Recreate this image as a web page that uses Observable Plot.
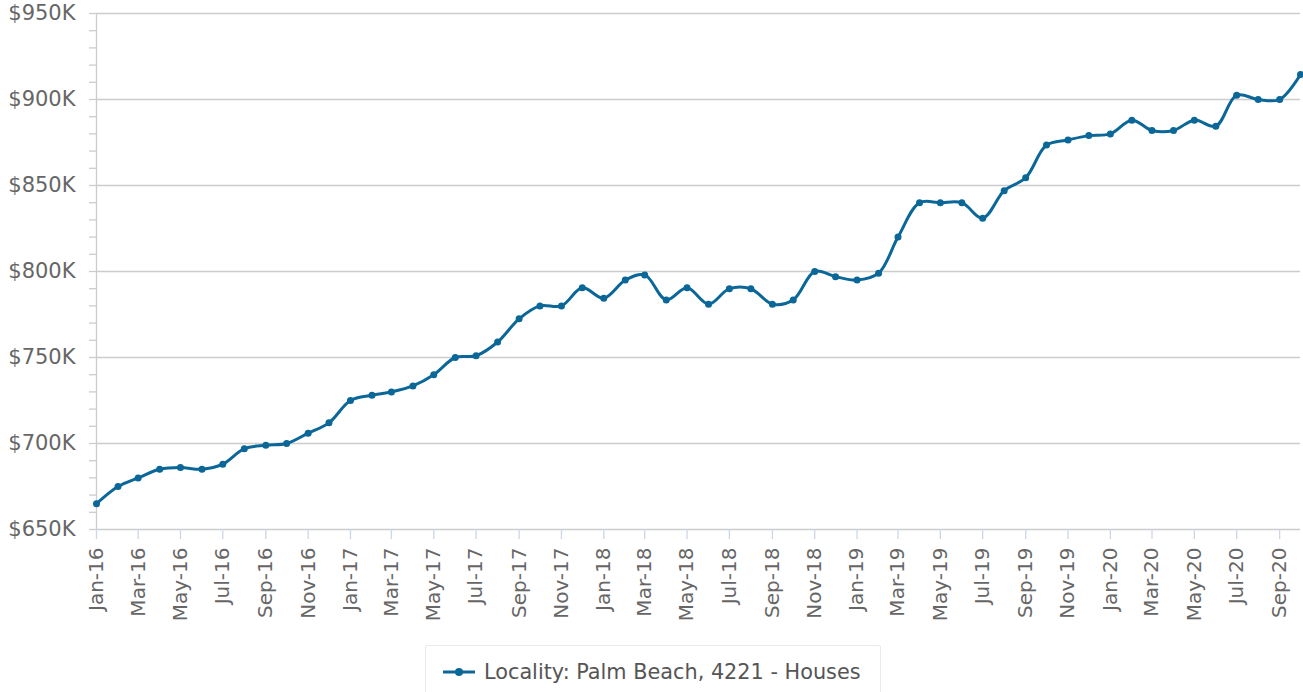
<!DOCTYPE html>
<html>
<head>
<meta charset="utf-8">
<script src="https://cdn.jsdelivr.net/npm/d3@7"></script>
<script src="https://cdn.jsdelivr.net/npm/@observablehq/plot@0.6"></script>
<style>
  html, body { margin: 0; padding: 0; background: #fff; overflow: hidden; }
  body { width: 1303px; height: 692px; position: relative; font-family: "DejaVu Sans", sans-serif; }
  #chart { position: absolute; left: 0; top: 0; }
  #legend {
    position: absolute; left: 425px; top: 645px; width: 456px; height: 60px;
    border: 1px solid #ebebeb; border-radius: 2px; box-sizing: border-box;
    font-family: "DejaVu Sans", sans-serif; font-size: 20.8px; color: #555;
  }
  #legend .item { position: absolute; left: 17px; top: 14px; display: flex; align-items: center; white-space: nowrap; }
  #legend svg { margin-right: 9px; }
</style>
</head>
<body>
<div id="chart"></div>
<div id="legend"><div class="item"><svg width="32" height="12"><line x1="0" y1="6" x2="32" y2="6" stroke="#0a6798" stroke-width="3"/><circle cx="16" cy="6" r="4" fill="#0a6798"/></svg><span id="legendText"></span></div></div>
<script>
const seriesName = "Locality: Palm Beach, 4221 - Houses";
const months = [
  "Jan-16","Feb-16","Mar-16","Apr-16","May-16","Jun-16","Jul-16","Aug-16","Sep-16","Oct-16","Nov-16","Dec-16",
  "Jan-17","Feb-17","Mar-17","Apr-17","May-17","Jun-17","Jul-17","Aug-17","Sep-17","Oct-17","Nov-17","Dec-17",
  "Jan-18","Feb-18","Mar-18","Apr-18","May-18","Jun-18","Jul-18","Aug-18","Sep-18","Oct-18","Nov-18","Dec-18",
  "Jan-19","Feb-19","Mar-19","Apr-19","May-19","Jun-19","Jul-19","Aug-19","Sep-19","Oct-19","Nov-19","Dec-19",
  "Jan-20","Feb-20","Mar-20","Apr-20","May-20","Jun-20","Jul-20","Aug-20","Sep-20","Oct-20"
];
const values = [
  665000, 675000, 680000, 685000, 686000, 685000, 688000, 697000, 699000, 700000, 706000, 712000,
  725000, 728000, 730000, 733500, 740000, 750000, 751000, 759000, 772500, 780000, 780000, 790500,
  784500, 795000, 798000, 783500, 790500, 781000, 790000, 790000, 781000, 783500, 800000, 797000,
  795000, 799000, 820000, 840000, 840000, 840000, 831000, 847000, 854500, 873500, 876500, 879000,
  880000, 888000, 882000, 882000, 888000, 884500, 902500, 900000, 900000, 914500
];
const yMajorTicks = [650000, 700000, 750000, 800000, 850000, 900000, 950000];

const parse = d3.utcParse("%b-%y");
const data = months.map((m, i) => ({date: parse(m), value: values[i]}));
const color = "#0a6798";
const x0 = data[0].date, x1 = data[data.length - 1].date;

const chart = Plot.plot({
  width: 1303,
  height: 640,
  marginLeft: 96,
  marginRight: 3,
  marginTop: 13,
  marginBottom: 111,
  style: {fontFamily: "DejaVu Sans, sans-serif", background: "#fff", overflow: "visible"},
  x: {type: "utc", domain: [x0, x1], label: null},
  y: {domain: [650000, 950000], label: null},
  marks: [
    Plot.gridY(yMajorTicks, {stroke: "#cccccc", strokeOpacity: 1, strokeWidth: 1.3}),
    Plot.ruleX([x0], {stroke: "#cccccc", strokeWidth: 1.3}),
    Plot.axisY({ticks: d3.range(650000, 950001, 10000), tickSize: 7, tickFormat: () => "", label: null, stroke: "#cccccc", strokeWidth: 1.3}),
    Plot.axisY({ticks: yMajorTicks, tickSize: 0, tickPadding: 21, fontSize: 21, fill: "#666666", label: null,
      tickFormat: d => "$" + d3.format("d")(d / 1000) + "K"}),
    Plot.axisX({ticks: d3.utcMonth.every(2), tickFormat: d3.utcFormat("%b-%y"), tickRotate: -90, label: null,
      tickSize: 10, tickPadding: 8, fontSize: 20, fill: "#666666", stroke: "#ccd6eb", strokeWidth: 1.3}),
    Plot.line(data, {x: "date", y: "value", stroke: color, strokeWidth: 3, curve: "catmull-rom"}),
    Plot.dot(data, {x: "date", y: "value", fill: color, r: 3.5})
  ]
});
document.getElementById("chart").appendChild(chart);
document.getElementById("legendText").textContent = seriesName;
</script>
</body>
</html>
